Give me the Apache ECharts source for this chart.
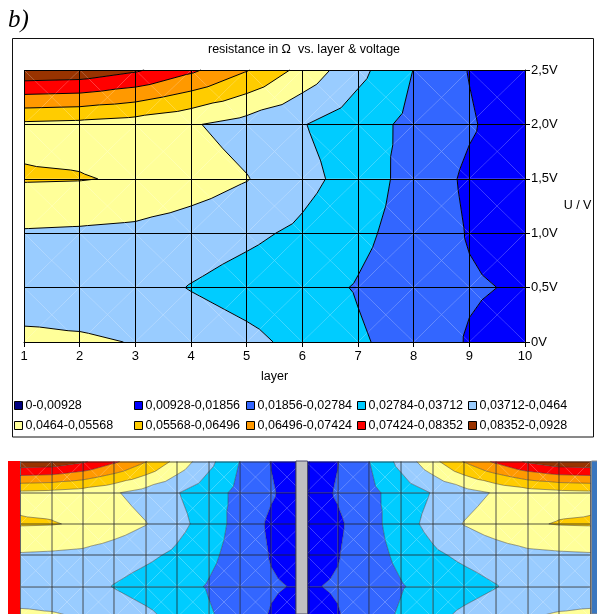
<!DOCTYPE html>
<html><head><meta charset="utf-8">
<script src="https://cdn.jsdelivr.net/npm/echarts@6/dist/echarts.min.js"></script>
<style>html,body{margin:0;padding:0;background:#fff}#c{width:597px;height:614px}</style>
</head><body><div id="c"></div>
<script>
// ---- data (resistance in Ohm) ----
const layers   = [1, 2, 3, 4, 5, 6, 7, 8, 9, 10];
const voltages = [0, 0.5, 1.0, 1.5, 2.0, 2.5];
const yTickLabels = ['0V', '0,5V', '1,0V', '1,5V', '2,0V', '2,5V'];
const r_0V  = [0.0483, 0.0475, 0.0461, 0.0427, 0.0394, 0.0346, 0.0288, 0.0247, 0.0178, 0.0148];
const r_05V = [0.0418, 0.0418, 0.0408, 0.0367, 0.0334, 0.0306, 0.0273, 0.0232, 0.0195, 0.0176];
const r_10V = [0.0455, 0.0450, 0.0441, 0.0418, 0.0390, 0.0354, 0.0297, 0.0244, 0.0180, 0.0148];
const r_15V = [0.0564, 0.0561, 0.0548, 0.0510, 0.0468, 0.0400, 0.0331, 0.0241, 0.0170, 0.0139];
const r_20V = [0.0538, 0.0529, 0.0510, 0.0473, 0.0427, 0.0376, 0.0318, 0.0255, 0.0195, 0.0133];
const r_25V = [0.0909, 0.0900, 0.0849, 0.0761, 0.0656, 0.0528, 0.0399, 0.0277, 0.0182, 0.0121];
const bandEdges  = [0, 0.00928, 0.01856, 0.02784, 0.03712, 0.0464, 0.05568, 0.06496, 0.07424, 0.08352, 0.0928];
const bandLabels = ['0-0,00928', '0,00928-0,01856', '0,01856-0,02784', '0,02784-0,03712', '0,03712-0,0464',
                    '0,0464-0,05568', '0,05568-0,06496', '0,06496-0,07424', '0,07424-0,08352', '0,08352-0,0928'];
const bandColors = ['#000080', '#0000FF', '#3366FF', '#00CCFF', '#99CCFF', '#FFFF99', '#FFCC00', '#FF9900', '#FF0000', '#993300'];

const Z = [r_0V, r_05V, r_10V, r_15V, r_20V, r_25V];
const FONT = 'Liberation Sans';

// cells of the grid (one data item per cell)
const cells = [];
for (let j = 0; j < voltages.length - 1; j++)
  for (let i = 0; i < layers.length - 1; i++)
    cells.push([layers[i], voltages[j], i, j]);

function cellTriangles(api) {
  const i = api.value(2), j = api.value(3);
  const pt = (ii, jj) => { const c = api.coord([layers[ii], voltages[jj]]); return {x: c[0], y: c[1], v: Z[jj][ii]}; };
  const a = pt(i, j), b = pt(i + 1, j), c = pt(i + 1, j + 1), d = pt(i, j + 1);
  const m = {x: (a.x + b.x + c.x + d.x) / 4, y: (a.y + b.y + c.y + d.y) / 4, v: (a.v + b.v + c.v + d.v) / 4};
  return [[a, b, m], [b, c, m], [c, d, m], [d, a, m]];
}
function clipHalf(poly, lvl, keepAbove) {
  const out = [], n = poly.length;
  for (let k = 0; k < n; k++) {
    const A = poly[k], B = poly[(k + 1) % n];
    const ina = keepAbove ? A.v >= lvl : A.v <= lvl;
    const inb = keepAbove ? B.v >= lvl : B.v <= lvl;
    if (ina) out.push(A);
    if (ina !== inb) {
      const t = (lvl - A.v) / (B.v - A.v);
      out.push({x: A.x + t * (B.x - A.x), y: A.y + t * (B.y - A.y), v: lvl});
    }
  }
  return out;
}
function fillRenderer(b) {
  return function (params, api) {
    const children = [];
    cellTriangles(api).forEach(tri => {
      let poly = b > 0 ? clipHalf(tri, bandEdges[b], true) : tri;
      if (poly.length < 3) return;
      if (b < bandColors.length - 1) poly = clipHalf(poly, bandEdges[b + 1], false);
      if (poly.length < 3) return;
      children.push({type: 'polygon', shape: {points: poly.map(p => [p.x, p.y])}, style: {fill: bandColors[b]}});
    });
    return {type: 'group', children};
  };
}
function lineRenderer(color) {
  return function (params, api) {
    const children = [];
    cellTriangles(api).forEach(tri => {
      for (let k = 1; k < bandEdges.length - 1; k++) {
        const L = bandEdges[k], pts = [];
        for (let e = 0; e < 3; e++) {
          const A = tri[e], B = tri[(e + 1) % 3];
          const da = A.v - L, db = B.v - L;
          if ((da < 0) !== (db < 0)) {
            const t = da / (da - db);
            pts.push([A.x + t * (B.x - A.x), A.y + t * (B.y - A.y)]);
          }
        }
        if (pts.length === 2)
          children.push({type: 'line', shape: {x1: pts[0][0], y1: pts[0][1], x2: pts[1][0], y2: pts[1][1]},
                         style: {stroke: color, lineWidth: 1}});
      }
    });
    return {type: 'group', children};
  };
}

const series = [];
[0, 1, 2].forEach(g => {
  bandLabels.forEach((name, b) => {
    series.push({type: 'custom', name, xAxisIndex: g, yAxisIndex: g, data: cells, z: 2,
      encode: {x: 0, y: 1}, itemStyle: {color: bandColors[b]}, renderItem: fillRenderer(b), silent: true});
  });
  series.push({type: 'custom', name: 'contours' + g, xAxisIndex: g, yAxisIndex: g, data: cells, z: 4,
    encode: {x: 0, y: 1}, renderItem: lineRenderer(g === 0 ? '#000' : 'rgba(40,40,40,0.45)'), silent: true});
});

const legendLefts = [14, 134, 246, 357, 468];
const legendTops = [399, 419];
const legend = bandLabels.map((name, k) => ({
  data: [name], left: legendLefts[k % 5], top: legendTops[Math.floor(k / 5)], orient: 'horizontal',
  icon: 'rect', itemWidth: 8, itemHeight: 8, padding: 0, selectedMode: false,
  itemStyle: {borderColor: '#000', borderWidth: 1},
  textStyle: {fontSize: 12.5, color: '#000', fontFamily: FONT, padding: [0, 0, 0, -2]}
}));

const gridLine = {show: true, lineStyle: {color: '#000', width: 1}};
const softLine = {show: true, lineStyle: {color: 'rgba(30,30,30,0.5)', width: 1.5}};

const option = {
  animation: false,
  backgroundColor: '#fff',
  legend,
  grid: [
    {left: 24, top: 70, width: 501, height: 272, outerBoundsMode: 'none'},
    {left: 20, top: 461.5, width: 276, height: 156, outerBoundsMode: 'none'},
    {left: 308.7, top: 461.5, width: 282, height: 156, outerBoundsMode: 'none'}
  ],
  xAxis: [
    {gridIndex: 0, type: 'value', min: 1, max: 10, interval: 1, position: 'bottom', z: 3,
     axisLine: {show: true, lineStyle: {color: '#000'}}, axisTick: {show: true, length: 5, lineStyle: {color: '#000'}},
     axisLabel: {color: '#000', fontSize: 13, fontFamily: FONT, margin: 8},
     splitLine: gridLine,
     name: 'layer', nameLocation: 'middle', nameGap: 28, nameTextStyle: {color: '#000', fontSize: 12.5, fontFamily: FONT}},
    {gridIndex: 1, type: 'value', min: 1, max: 9.79, interval: 1, position: 'top', z: 3,
     axisLine: {show: true, lineStyle: {color: '#888'}}, axisTick: {show: false}, axisLabel: {show: false}, splitLine: softLine},
    {gridIndex: 2, type: 'value', min: 1, max: 9.91, interval: 1, inverse: true, position: 'top', z: 3,
     axisLine: {show: true, lineStyle: {color: '#888'}}, axisTick: {show: false}, axisLabel: {show: false}, splitLine: softLine}
  ],
  yAxis: [
    {gridIndex: 0, type: 'value', min: 0, max: 2.5, interval: 0.5, position: 'right', z: 3,
     axisLine: {show: true, lineStyle: {color: '#000'}}, axisTick: {show: true, length: 5, lineStyle: {color: '#000'}},
     axisLabel: {color: '#000', fontSize: 13, fontFamily: FONT, margin: 6,
                 formatter: v => yTickLabels[voltages.indexOf(v)] ?? ''},
     splitLine: gridLine,
     name: 'U / V', nameLocation: 'middle', nameRotate: 0, nameGap: 37,
     nameTextStyle: {color: '#000', fontSize: 12.5, fontFamily: FONT}},
    {gridIndex: 1, type: 'value', min: 0, max: 2.5, interval: 0.5, position: 'left', z: 3,
     axisLine: {show: true, lineStyle: {color: '#666'}}, axisTick: {show: false}, axisLabel: {show: false}, splitLine: softLine},
    {gridIndex: 2, type: 'value', min: 0, max: 2.5, interval: 0.5, position: 'right', z: 3,
     axisLine: {show: true, lineStyle: {color: '#666'}}, axisTick: {show: false}, axisLabel: {show: false}, splitLine: softLine}
  ],
  graphic: [
    {type: 'text', left: 8, top: 8, z: 10, style: {text: 'b)', font: 'italic 25px "Liberation Serif"', fill: '#000'}},
    {type: 'text', x: 304, y: 50, z: 10, style: {text: 'resistance in Ω  vs. layer & voltage', textAlign: 'center',
      textVerticalAlign: 'middle', font: '12.5px "Liberation Sans"', fill: '#000'}},
    {type: 'rect', z: 10, shape: {x: 12.5, y: 38.5, width: 581, height: 398.5}, style: {fill: 'none', stroke: '#111', lineWidth: 1}},
    {type: 'rect', z: 10, shape: {x: 8, y: 461, width: 12, height: 153}, style: {fill: '#FF0000'}},
    {type: 'rect', z: 10, shape: {x: 296, y: 461, width: 11.5, height: 153}, style: {fill: '#C0C0C0', stroke: '#4a4a6a', lineWidth: 1}},
    {type: 'rect', z: 10, shape: {x: 591.5, y: 461, width: 6, height: 153}, style: {fill: '#3A76BE', stroke: '#888', lineWidth: 1}}
  ],
  series
};
const chart = echarts.init(document.getElementById('c'), null, {renderer: 'canvas'});
chart.setOption(option);
</script>
</body></html>
